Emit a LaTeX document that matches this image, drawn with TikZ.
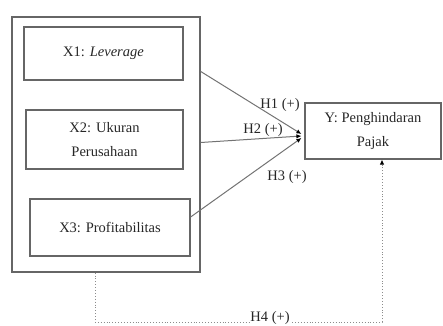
\documentclass[tikz,border=0pt]{standalone}
\usepackage{fontspec}
\setmainfont{Liberation Serif}
\usetikzlibrary{arrows.meta,calc}
\begin{document}
\begin{tikzpicture}[x=1pt,y=-1pt,
  box/.style={draw=black!60,line width=1.2pt,inner sep=0pt,align=center,font=\fontsize{14.5}{24.5}\selectfont,text=black!85},
  conn/.style={draw=black!55,line width=1pt,-{Latex[length=5pt,width=4.5pt,black]}},
  dots/.style={draw=black!45,line width=0.9pt,dotted},
  lab/.style={font=\fontsize{14.5}{16}\selectfont,inner sep=1pt,text=black!85}]
\useasboundingbox (0,0) rectangle (443,325);
\node[box,minimum width=188pt,minimum height=255pt] (outer) at (106,144.5) {};
\node[box,minimum width=159pt,minimum height=53pt] (x1) at (103.5,53.5) {X1: \textit{Leverage}};
\node[box,minimum width=157pt,minimum height=59pt] (x2) at (104.5,139.5) {X2: Ukuran\\Perusahaan};
\node[box,minimum width=160pt,minimum height=57pt] (x3) at (110,227.5) {X3: Profitabilitas};
\node[box,minimum width=136pt,minimum height=56pt] (y) at (373,131) {Y: Penghindaran\\Pajak};
\draw[conn] ($(outer.north east)+(0,55)$) -- ($(y.west)+(-3,3)$);
\draw[conn] ($(outer.east)+(0,-2)$) -- ($(y.west)+(-3,5)$);
\draw[conn] (x3.east |- 0,217) -- ($(y.west)+(-3,7)$);
\node[lab] (h1) at (280,105) {H1 (+)};
\node[lab] (h2) at (263,130) {H2 (+)};
\node[lab] (h3) at (287,177) {H3 (+)};
\coordinate (d1) at (95,322);
\coordinate (d2) at (382,322);
\draw[dots,-{Latex[length=5pt,width=4.5pt,black]}] (outer.south -| d1) -- (d1) -- (d2) -- (y.south -| d2);
\node[lab,fill=white,inner sep=0.5pt] (h4) at (270,318) {H4 (+)};
\end{tikzpicture}
\end{document}
